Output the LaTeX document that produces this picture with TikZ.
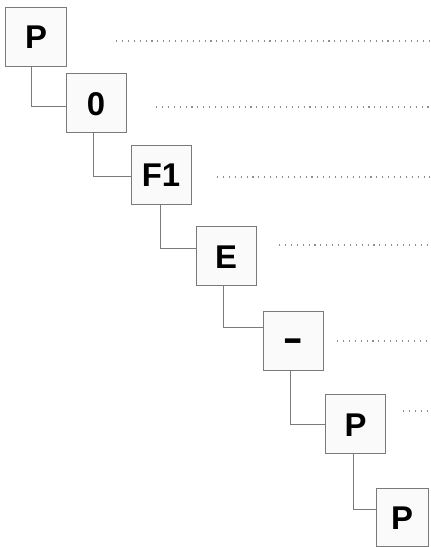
\documentclass[tikz,border=0pt]{standalone}
\usepackage{fontspec}
\setmainfont{Liberation Sans}
\usepackage{xcolor}
\usepackage{graphicx}
\usepackage{tikz}
\usetikzlibrary{positioning,calc}

\definecolor{edgegray}{HTML}{7A7A7A}
\definecolor{boxfill}{HTML}{FAFAFA}

\begin{document}
\begin{tikzpicture}[
    x=1bp, y=-1bp,
    font=\fontsize{33}{36}\selectfont\bfseries,
    symbox/.style={rectangle, draw=edgegray, line width=1bp, fill=boxfill, minimum width=60bp, minimum height=59bp, inner sep=0pt, text height=24bp, text depth=0bp, align=center, text=black},
    link/.style={draw=edgegray, line width=1bp},
    leader/.style={draw=edgegray!85, line width=1.1bp, dash pattern=on 1.1bp off 4.8bp}
]
\useasboundingbox (0,0) rectangle (430,547);
% ============================================================
% SYMBOL BOXES — one step down and right each
% ============================================================
\node[symbox] (p1)  at (36,37)    {P};
\node[symbox] (n0)  at (96,103.5) {0};
\node[symbox] (f1)  at (161,175)  {F1};
\node[symbox] (e1)  at (226,256)  {E};
\node[symbox] (dash) at (293,341) {\scalebox{0.95}[1.4]{--}};
\node[symbox] (p2)  at (355.5,424) {P};
\node[symbox, minimum width=52bp, minimum height=58bp] (p3) at (402,517) {P};

% ============================================================
% TREE LINKS
% ============================================================
\draw[link] ([xshift=-5bp]p1.south)   |- ([yshift=-3.5bp]n0.west);
\draw[link] ([xshift=-3bp]n0.south)   |- ([yshift=-2bp]f1.west);
\draw[link] ([xshift=-1bp]f1.south)   |- ([yshift=8bp]e1.west);
\draw[link] ([xshift=-3bp]e1.south)   |- ([yshift=14bp]dash.west);
\draw[link] ([xshift=-3bp]dash.south) |- (p2.west);
\draw[link] ([xshift=-2.5bp]p2.south) |- ([yshift=8bp]p3.west);

% ============================================================
% DOTTED LEADERS to the right edge
% ============================================================
\coordinate (l1a) at (116,41);   \coordinate (l1b) at (430,41);
\coordinate (l2a) at (156,107);  \coordinate (l2b) at (430,107);
\coordinate (l3a) at (217,177);  \coordinate (l3b) at (430,177);
\coordinate (l4a) at (279,245);  \coordinate (l4b) at (430,245);
\coordinate (l5a) at (337,341);  \coordinate (l5b) at (430,341);
\coordinate (l6a) at (403,411);  \coordinate (l6b) at (430,411);

\draw[leader] (l1a) -- (l1b);
\draw[leader] (l2a) -- (l2b);
\draw[leader] (l3a) -- (l3b);
\draw[leader] (l4a) -- (l4b);
\draw[leader] (l5a) -- (l5b);
\draw[leader] (l6a) -- (l6b);

\end{tikzpicture}
\end{document}
